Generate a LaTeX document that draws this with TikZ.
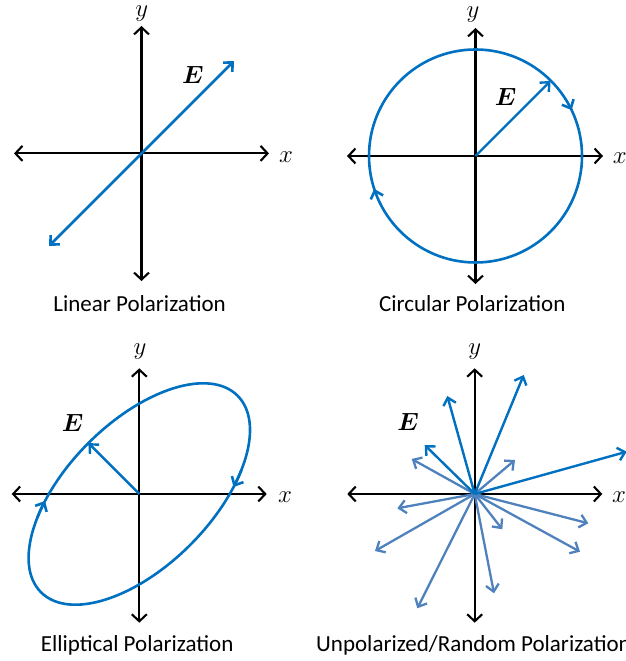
\documentclass[tikz,border=0pt]{standalone}
\usepackage{bm}
\usepackage{fontspec}
\newfontfamily\capfont{Carlito}
\usetikzlibrary{arrows.meta,decorations.markings,calc}
\definecolor{dblue}{RGB}{0,112,192}
\definecolor{lblue}{RGB}{79,129,189}
\tikzset{
  axtip/.tip={Straight Barb[length=7pt,width=15pt]},
  btip/.tip={Straight Barb[length=7pt,width=13pt]},
  axis/.style={line width=2.1pt, black, axtip-axtip},
  blueline/.style={line width=2.6pt, dblue},
  vec/.style={line width=2.4pt, dblue, -btip},
  lvec/.style={line width=2.3pt, lblue, -btip},
  mlab/.style={inner sep=0pt, font=\fontsize{24.88}{28}\selectfont},
  caption/.style={inner sep=0pt, anchor=base, font=\capfont\fontsize{23}{27}\selectfont},
}
\begin{document}
\begin{tikzpicture}[x=1pt,y=1pt]
\useasboundingbox (0,0) rectangle (626,661);

% ---------- Panel 1: Linear ----------
\coordinate (O1) at (141.5,507.6);
\coordinate (X1l) at (14,507.6);  \coordinate (X1r) at (269,507.6);
\coordinate (Y1b) at (141.5,380); \coordinate (Y1t) at (141.5,635);
\draw[axis] (X1l) -- (X1r);
\draw[axis] (Y1b) -- (Y1t);
\node[mlab] (y1) at (141.7,647) {$y$};
\node[mlab] (x1) at (286,504) {$x$};
\coordinate (E1a) at (49,415);
\coordinate (E1b) at (234,600);
\draw[blueline, btip-btip] (E1a) -- (E1b);
\node[mlab] (e1) at (193,586) {$\bm{E}$};
\node[caption] (c1) at (139.6,349.5) {Linear Polarization};

% ---------- Panel 2: Circular ----------
\coordinate (O2) at (475.5,505);
\coordinate (X2l) at (347,505);  \coordinate (X2r) at (603,505);
\coordinate (Y2b) at (475.5,377); \coordinate (Y2t) at (475.5,633);
\draw[axis] (X2l) -- (X2r);
\draw[axis] (Y2b) -- (Y2t);
\draw[blueline, postaction=decorate,
  decoration={markings,
    mark=at position 0.45 with {\arrow{btip}},
    mark=at position 0.929 with {\arrow{btip}}}]
  ($(O2)+(106.5,0)$) arc[start angle=0, end angle=-360, radius=106.5];
\coordinate (E2) at ($(O2)+(45:106)$);
\draw[vec] (O2) -- (E2);
\node[mlab] (y2) at (473,646.5) {$y$};
\node[mlab] (x2) at (619.7,503) {$x$};
\node[mlab] (e2) at (505.7,564.3) {$\bm{E}$};
\node[caption] (c2) at (472.3,349.5) {Circular Polarization};

% ---------- Panel 3: Elliptical ----------
\coordinate (O3) at (139.3,167);
\coordinate (X3l) at (11.7,167);  \coordinate (X3r) at (266.7,167);
\coordinate (Y3b) at (139.3,38.3); \coordinate (Y3t) at (139.3,292.7);
\draw[axis] (X3l) -- (X3r);
\draw[axis] (Y3b) -- (Y3t);
\draw[blueline, rotate around={45:(O3)}] (O3) ellipse[x radius=139, y radius=72];
\begin{scope}[shift={(O3)}, rotate=45]
  \draw[blueline, -btip] (-50:139 and 72) arc[start angle=-50, end angle=-59, x radius=139, y radius=72];
  \draw[blueline, -btip] (130:139 and 72) arc[start angle=130, end angle=121, x radius=139, y radius=72];
  \coordinate (E3) at (90:72);
\end{scope}
\draw[vec] (O3) -- (E3);
\node[mlab] (y3) at (140,309.3) {$y$};
\node[mlab] (x3) at (285,164.3) {$x$};
\node[mlab] (e3) at (72.7,238.3) {$\bm{E}$};
\node[caption] (c3) at (137.2,9.5) {Elliptical Polarization};

% ---------- Panel 4: Unpolarized ----------
\coordinate (O4) at (474.7,167);
\coordinate (X4l) at (347.3,167);  \coordinate (X4r) at (602.3,167);
\coordinate (Y4b) at (474.7,38.3); \coordinate (Y4t) at (474.7,292.7);
\draw[axis] (X4l) -- (X4r);
\draw[axis] (Y4b) -- (Y4t);
\foreach \dx/\dy [count=\i] in {-63/35, 40.3/34, -77.4/-14.3, -99.7/-57, -57.4/-114.3, 19.3/-99.3, 27.6/-35.3, 113.6/-29.3, 105.3/-57.7}{
  \coordinate (L\i) at ($(O4)+(\dx,\dy)$);
  \draw[lvec] (O4) -- (L\i);
}
\foreach \dx/\dy [count=\i] in {49/119, -27.4/98, -50/49, 152/42.3}{
  \coordinate (D\i) at ($(O4)+(\dx,\dy)$);
  \draw[vec] (O4) -- (D\i);
}
\node[mlab] (y4) at (474.7,309.3) {$y$};
\node[mlab] (x4) at (619,164.3) {$x$};
\node[mlab] (e4) at (408,239.3) {$\bm{E}$};
\node[caption, anchor=base west] (c4) at (316,9.5) {Unpolarized/Random Polarization};
\end{tikzpicture}
\end{document}
